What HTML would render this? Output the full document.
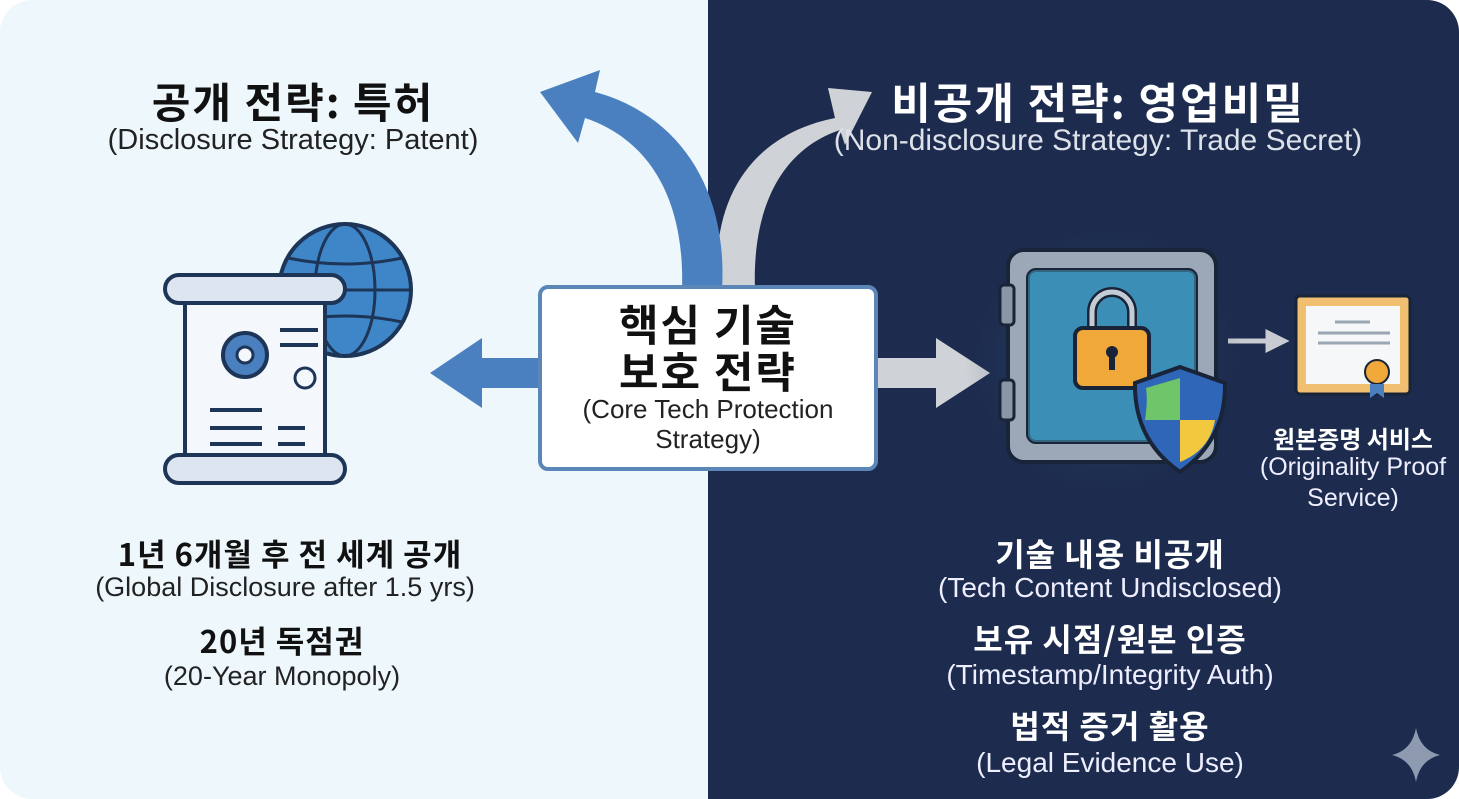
<!DOCTYPE html>
<html><head><meta charset="utf-8"><style>
html,body{margin:0;padding:0;background:#fff}
#c{position:relative;width:1459px;height:799px;overflow:hidden;border-radius:32px;background:#eef8fc;font-family:"Liberation Sans","Noto Sans CJK KR",sans-serif}
.t{position:absolute;text-align:center;white-space:nowrap;transform:translateX(-50%)}
.k{font-weight:bold;font-family:"Noto Sans CJK KR","Liberation Sans",sans-serif}
</style></head><body><div id="c">
<div style="position:absolute;left:708px;top:0;width:751px;height:799px;background:#1d2c4e"></div>
<svg width="1459" height="799" style="position:absolute;left:0;top:0">
<defs><radialGradient id="g" cx="0.5" cy="0.5" r="0.5"><stop offset="0" stop-color="#3a8fd0" stop-opacity="0.6"/><stop offset="1" stop-color="#1d2c4e" stop-opacity="0"/></radialGradient></defs>
<path d="M718 290 C710 200 750 135 835 118 L828 88 L872 92 L845 145 L840 130 C780 150 752 210 755 290 Z" fill="#cfd2d6"/>
<path d="M682 290 C685 200 650 140 585 118 L578 143 L540 92 L600 70 L595 92 C680 115 728 190 722 290 Z" fill="#4b80c0"/>
<path d="M540 358 L482 358 L482 338 L430 373 L482 408 L482 388 L540 388 Z" fill="#4b80c0"/>
<path d="M878 358 L936 358 L936 338 L990 373 L936 408 L936 388 L878 388 Z" fill="#cfd2d6"/>
<path d="M1228 341 L1268 341 L1268 333 L1284 341 L1268 349 L1268 341" stroke="#c8ccd2" stroke-width="5" fill="#c8ccd2"/>
<circle cx="345" cy="290" r="66" fill="#3f86c8" stroke="#1d3557" stroke-width="4"/>
<g stroke="#1d3557" stroke-width="3" fill="none"><ellipse cx="345" cy="290" rx="30" ry="66"/><line x1="279" y1="290" x2="411" y2="290"/><path d="M288 258 Q345 270 402 258 M288 322 Q345 310 402 322"/></g>
<rect x="185" y="280" width="140" height="200" fill="#f4f8fc" stroke="#1d3557" stroke-width="4"/>
<rect x="165" y="275" width="180" height="28" rx="14" fill="#dde6f0" stroke="#1d3557" stroke-width="4"/>
<rect x="165" y="455" width="180" height="28" rx="14" fill="#dde6f0" stroke="#1d3557" stroke-width="4"/>
<circle cx="245" cy="355" r="22" fill="#4b80c0" stroke="#1d3557" stroke-width="4"/><circle cx="245" cy="355" r="8" fill="#f4f8fc" stroke="#1d3557" stroke-width="3"/>
<g stroke="#1d3557" stroke-width="4"><line x1="210" y1="410" x2="262" y2="410"/><line x1="210" y1="428" x2="262" y2="428"/><line x1="210" y1="444" x2="262" y2="444"/><line x1="278" y1="428" x2="305" y2="428"/><line x1="278" y1="444" x2="305" y2="444"/><line x1="280" y1="330" x2="318" y2="330"/><line x1="280" y1="345" x2="318" y2="345"/></g>
<circle cx="305" cy="378" r="10" fill="none" stroke="#1d3557" stroke-width="3"/>
<circle cx="1105" cy="360" r="140" fill="url(#g)"/>
<rect x="1008" y="250" width="208" height="212" rx="16" fill="#9aa8b8" stroke="#1a2438" stroke-width="4"/>
<rect x="1028" y="270" width="168" height="172" rx="8" fill="#2b6d9a" stroke="#1a2438" stroke-width="4"/>
<rect x="1028" y="270" width="168" height="172" rx="8" fill="#4fb6d8" opacity="0.45"/>
<rect x="1000" y="285" width="14" height="40" rx="4" fill="#8a96a6" stroke="#1a2438" stroke-width="3"/>
<rect x="1000" y="380" width="14" height="40" rx="4" fill="#8a96a6" stroke="#1a2438" stroke-width="3"/>
<path d="M1092 330 V312 a20 20 0 0 1 40 0 V330" fill="none" stroke="#1a2438" stroke-width="10"/>
<path d="M1092 330 V312 a20 20 0 0 1 40 0 V330" fill="none" stroke="#c4ccd6" stroke-width="5"/>
<rect x="1075" y="328" width="74" height="60" rx="8" fill="#f0a838" stroke="#1a2438" stroke-width="4"/>
<circle cx="1112" cy="352" r="6" fill="#1a2438"/><rect x="1109" y="354" width="6" height="16" fill="#1a2438"/>
<path d="M1180 367 L1225 383 Q1226 440 1180 472 Q1134 440 1135 383 Z" fill="#2f66b8" stroke="#1a2438" stroke-width="4"/>
<path d="M1180 378 L1180 420 L1145 420 Q1148 400 1146 388 Z" fill="#6fc56a"/><path d="M1180 420 L1215 420 Q1210 450 1180 462 Z" fill="#f2c93e"/>
<rect x="1296" y="296" width="114" height="98" rx="4" fill="#f0c070" stroke="#1a2438" stroke-width="3"/>
<rect x="1306" y="306" width="94" height="78" fill="#f6f7f9"/>
<g stroke="#9aa6b4" stroke-width="3"><line x1="1335" y1="322" x2="1370" y2="322"/><line x1="1318" y1="333" x2="1390" y2="333"/><line x1="1318" y1="343" x2="1390" y2="343"/></g>
<circle cx="1377" cy="372" r="12" fill="#f0a838" stroke="#1a2438" stroke-width="2"/>
<path d="M1370 384 v14 l7 -5 l7 5 v-14" fill="#4b80c0"/>
<path d="M1416 728 Q1420 750 1440 755 Q1420 760 1416 782 Q1412 760 1392 755 Q1412 750 1416 728Z" fill="#8e9ab0"/>
</svg>
<div style="position:absolute;left:538px;top:285px;width:332px;height:178px;background:#fff;border:4px solid #5a86b8;border-radius:10px"></div>
<div class="t k" style="left:708px;top:300px;font-size:43px;line-height:47px;letter-spacing:2px;color:#111">핵심 기술<br>보호 전략</div>
<div class="t" style="left:708px;top:394px;font-size:26px;line-height:30px;color:#222">(Core Tech Protection<br>Strategy)</div>

<div class="t k" style="left:293px;top:70px;font-size:42px;letter-spacing:2px;color:#111">공개 전략: 특허</div>
<div class="t" style="left:293px;top:124px;font-size:29px;color:#222">(Disclosure Strategy: Patent)</div>
<div class="t k" style="left:1098px;top:70px;font-size:43px;letter-spacing:2px;color:#fff">비공개 전략: 영업비밀</div>
<div class="t" style="left:1098px;top:124px;font-size:30px;color:#dde2ea">(Non-disclosure Strategy: Trade Secret)</div>

<div class="t k" style="left:290px;top:530px;font-size:31px;letter-spacing:1px;color:#111">1년 6개월 후 전 세계 공개</div>
<div class="t" style="left:285px;top:572px;font-size:27px;color:#222">(Global Disclosure after 1.5 yrs)</div>
<div class="t k" style="left:282px;top:617px;font-size:31px;letter-spacing:1px;color:#111">20년 독점권</div>
<div class="t" style="left:282px;top:661px;font-size:27px;color:#222">(20-Year Monopoly)</div>

<div class="t k" style="left:1110px;top:530px;font-size:32px;letter-spacing:1px;color:#fff">기술 내용 비공개</div>
<div class="t" style="left:1110px;top:572px;font-size:28px;color:#eef">(Tech Content Undisclosed)</div>
<div class="t k" style="left:1110px;top:615px;font-size:32px;letter-spacing:1px;color:#fff">보유 시점/원본 인증</div>
<div class="t" style="left:1110px;top:659px;font-size:28px;color:#eef">(Timestamp/Integrity Auth)</div>
<div class="t k" style="left:1110px;top:702px;font-size:32px;letter-spacing:1px;color:#fff">법적 증거 활용</div>
<div class="t" style="left:1110px;top:747px;font-size:28px;color:#eef">(Legal Evidence Use)</div>

<div class="t k" style="left:1353px;top:420px;font-size:24px;color:#fff">원본증명 서비스</div>
<div class="t" style="left:1353px;top:452px;font-size:25px;line-height:31px;color:#eef">(Originality Proof<br>Service)</div>
</div></body></html>
